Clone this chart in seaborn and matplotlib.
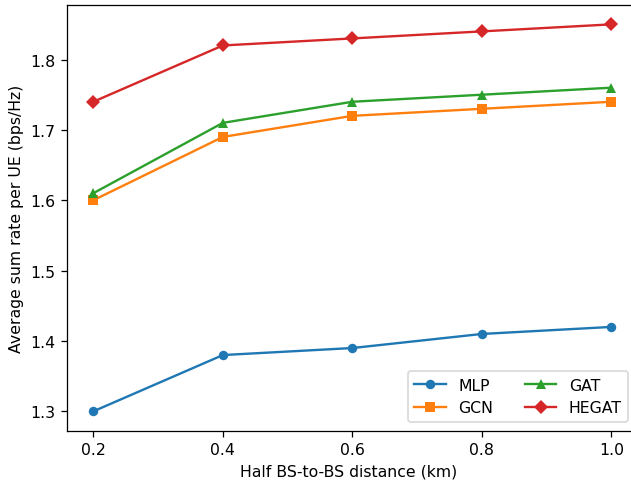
import matplotlib
matplotlib.use("Agg")
import matplotlib.pyplot as plt
import seaborn as sns
import pandas as pd

distance = [0.2, 0.4, 0.6, 0.8, 1.0]
mlp = [1.30, 1.38, 1.39, 1.41, 1.42]
gcn = [1.60, 1.69, 1.72, 1.73, 1.74]
gat = [1.61, 1.71, 1.74, 1.75, 1.76]
hegat = [1.74, 1.82, 1.83, 1.84, 1.85]
methods = ["MLP", "GCN", "GAT", "HEGAT"]
series = [mlp, gcn, gat, hegat]

rows = []
for m, vals in zip(methods, series):
    for d, v in zip(distance, vals):
        rows.append({"dist": d, "rate": v, "method": m})
df = pd.DataFrame(rows)

plt.rcParams["font.family"] = ["DejaVu Sans"]
W, H = 631, 481
DPI = 113.5
fig = plt.figure(figsize=(W / DPI, H / DPI), dpi=DPI)
# axes occupies from x=66.7px to the right edge (x-range continues beyond the canvas)
left_px, right_px, top_px, bottom_px = 66.7, 631.0, 6.0, 431.7
ax = fig.add_axes([left_px / W, 1 - bottom_px / H,
                   (right_px - left_px) / W, (bottom_px - top_px) / H])
palette = {"MLP": "#1f77b4", "GCN": "#ff7f0e", "GAT": "#2ca02c", "HEGAT": "#d62728"}
markers = {"MLP": "o", "GCN": "s", "GAT": "^", "HEGAT": "D"}
sns.lineplot(data=df, x="dist", y="rate", hue="method", style="method",
             markers=markers, dashes=False, palette=palette, ax=ax,
             markersize=6, markeredgewidth=0, linewidth=1.5)
ax.set_xlabel("Half BS-to-BS distance (km)")
ax.set_ylabel("Average sum rate per UE (bps/Hz)")
ax.set_xticks(distance)
ppu = (611.5 - 93.3) / 0.8
ax.set_xlim(0.2 - (93.3 - left_px) / ppu, 1.0 + (right_px - 611.5) / ppu)
ax.spines["right"].set_visible(False)
ax.legend(loc="lower right", ncol=2, title=None,
          bbox_to_anchor=(628.3 / W, 1 - 422.7 / H),
          bbox_transform=fig.transFigure, borderaxespad=0)
fig.savefig("out.png", dpi=DPI)
